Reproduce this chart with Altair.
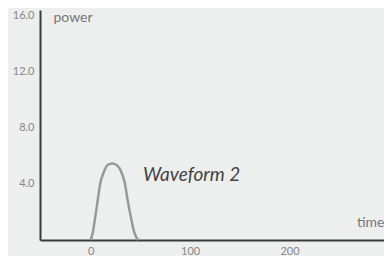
import altair as alt
import pandas as pd

# Waveform 2 samples
time = [0, 2, 4.5, 7, 9.5, 13.5, 17, 21.5, 26, 30.5, 34.5, 37, 40.5, 44, 47.5]
power = [0, 0.5, 1.6, 2.8, 4.0, 4.9, 5.35, 5.45, 5.35, 4.9, 4.0, 2.9, 1.6, 0.5, 0]

x_ticks = [0, 100, 200]
y_ticks = [4, 8, 12, 16]

label_text = ["Waveform 2"]
label_time = [52.5]
label_power = [4.2]

df = pd.DataFrame({"time": time, "power": power})
lab = pd.DataFrame({"text": label_text, "time": label_time, "power": label_power})

FONT = "Lato"
W, H = 344, 230

x = alt.X(
    "time:Q",
    scale=alt.Scale(domain=[-51, 295], nice=False, zero=False),
    axis=alt.Axis(
        values=x_ticks, format="d", ticks=False, grid=False,
        domainColor="#3a3a3a", domainWidth=2,
        labelColor="#888888", labelFont=FONT, labelFontSize=11, labelPadding=5,
        title="time", titleFont=FONT, titleFontSize=14, titleFontWeight="normal",
        titleColor="#777777", titleAlign="right", titleBaseline="alphabetic",
        titleX=W, titleY=-14,
    ),
)
y = alt.Y(
    "power:Q",
    scale=alt.Scale(domain=[0, 16.4], nice=False),
    axis=alt.Axis(
        values=y_ticks, format=".1f", ticks=False, grid=False,
        domainColor="#3a3a3a", domainWidth=2,
        labelColor="#888888", labelFont=FONT, labelFontSize=11, labelPadding=6,
        title="power", titleFont=FONT, titleFontSize=14, titleFontWeight="normal",
        titleColor="#777777", titleAngle=0, titleAlign="left", titleBaseline="alphabetic",
        titleX=13, titleY=11,
    ),
)

line = alt.Chart(df).mark_line(
    color="#999999", strokeWidth=2.5, interpolate="monotone"
).encode(x=x, y=y)

text = alt.Chart(lab).mark_text(
    font=FONT, fontSize=19, fontStyle="italic", color="#444444",
    align="left", baseline="alphabetic",
).encode(x="time:Q", y="power:Q", text="text:N")

chart = (line + text).properties(
    width=W, height=H,
    background="#EDEEEE",
    autosize=alt.AutoSizeParams(type="none"),
    padding={"left": 32, "top": 2, "right": 0, "bottom": 16},
).configure_view(stroke=None)

chart.save("out.html", embed_options={"renderer": "svg", "actions": False})
